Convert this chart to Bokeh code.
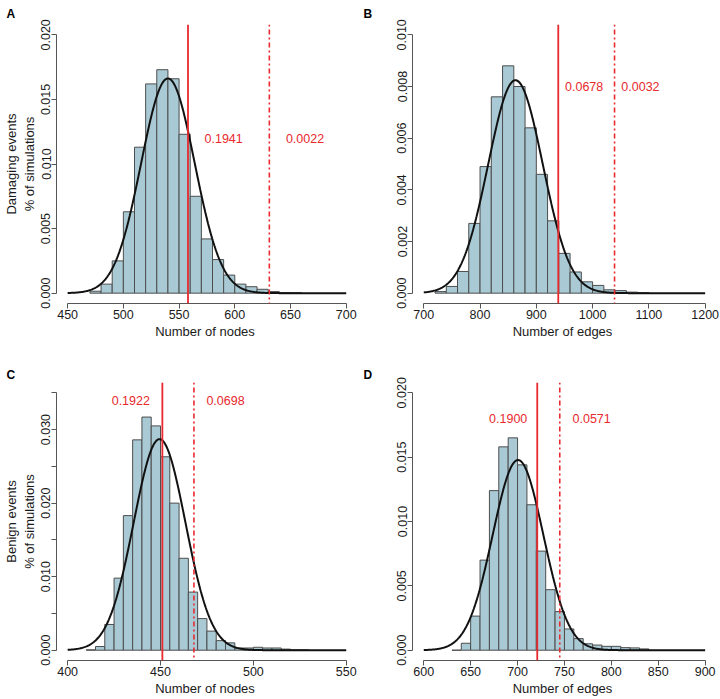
import numpy as np
from bokeh.plotting import figure
from bokeh.layouts import gridplot
from bokeh.models import Span, FixedTicker, Range1d, Title
from bokeh.core.properties import value
from bokeh.embed import file_html
from bokeh.resources import INLINE

# ---------------- data ----------------
# Panel A: damaging events, number of nodes
a_bin_start = 470
a_bin_width = 10
a_density = [0.00015, 0.0007, 0.0025, 0.0063, 0.0113, 0.0162, 0.0173, 0.0166, 0.0123,
             0.0075, 0.0042, 0.0026, 0.0014, 0.0007, 0.0005, 0.0003, 0.00012, 0.00005, 0.00003]
a_fit_mean, a_fit_sd = 540.0, 24.0
a_observed, a_upper = 558, 631
a_pvals = ["0.1941", "0.0022"]
a_pval_x = [590, 663]
a_pval_y = 0.0120
a_xticks = [450, 500, 550, 600, 650, 700]
a_yticks = [0.0, 0.005, 0.01, 0.015, 0.02]
a_ylabels = ["0.000", "0.005", "0.010", "0.015", "0.020"]

# Panel B: damaging events, number of edges
b_bin_start = 720
b_bin_width = 20
b_density = [0.00006, 0.00026, 0.00084, 0.0027, 0.0049, 0.0076, 0.0088, 0.0080, 0.0064,
             0.0046, 0.0028, 0.00154, 0.00082, 0.00044, 0.0003, 0.00013, 0.0001, 0.00004, 0.00002]
b_fit_mean, b_fit_sd = 863.0, 48.4
b_observed, b_upper = 939, 1039
b_pvals = ["0.0678", "0.0032"]
b_pval_x = [985, 1085]
b_pval_y = 0.0080
b_xticks = [700, 800, 900, 1000, 1100, 1200]
b_yticks = [0.0, 0.002, 0.004, 0.006, 0.008, 0.01]
b_ylabels = ["0.000", "0.002", "0.004", "0.006", "0.008", "0.010"]

# Panel C: benign events, number of nodes
c_bin_start = 410
c_bin_width = 5
c_density = [0.00005, 0.0005, 0.0035, 0.0098, 0.0183, 0.0286, 0.0317, 0.0305, 0.0263, 0.0200,
             0.0125, 0.0079, 0.0043, 0.0026, 0.0013, 0.0010, 0.0003, 0.0003, 0.0004, 0.0003,
             0.0003, 0.00015, 0.00003, 0.00003]
c_fit_mean, c_fit_sd = 449.5, 13.9
c_observed, c_upper = 451, 468
c_pvals = ["0.1922", "0.0698"]
c_pval_x = [434, 485]
c_pval_y = 0.0340
c_xticks = [400, 450, 500, 550]
c_yticks = [0.0, 0.005, 0.01, 0.015, 0.02, 0.025, 0.03, 0.035]
c_ylabels = ["0.000", "", "0.010", "", "0.020", "", "0.030", ""]

# Panel D: benign events, number of edges
d_bin_start = 630
d_bin_width = 10
d_density = [0.0, 0.00054, 0.00265, 0.0070, 0.0124, 0.0158, 0.0165, 0.0144, 0.0113, 0.0077,
             0.0047, 0.0030, 0.00165, 0.0009, 0.0005, 0.0004, 0.0003, 0.0003, 0.0002, 0.00018, 0.0001]
d_fit_mean, d_fit_sd = 700.5, 27.0
d_observed, d_upper = 721, 745
d_pvals = ["0.1900", "0.0571"]
d_pval_x = [690, 779]
d_pval_y = 0.0180
d_xticks = [600, 650, 700, 750, 800, 850, 900]
d_yticks = [0.0, 0.005, 0.01, 0.015, 0.02]
d_ylabels = ["0.000", "0.005", "0.010", "0.015", "0.020"]

# ---------------- style ----------------
FONT = "Liberation Sans"
BAR_FILL = "#a9cad5"
BAR_LINE = "#4d4d4d"
RED = "#e8292d"
AXIS_COLOR = "#555555"
TEXT_COLOR = "#1a1a1a"

FIG_W = 360
FRAME_W = 300
AXIS_PX = 281.4
FRAME_H = 280
BORDER_T = 23
TOP_BORDER_B = 56
BOT_BORDER_B = 36


def panel(letter, letter_gap, bin_start, bin_width, density, mean, sd, observed, upper,
          pvals, pval_x, pval_y, xticks, yticks, ylabels, xlabel, ylabel, border_b, border_l):
    lo, hi = xticks[0], xticks[-1]
    ppu = AXIS_PX / (hi - lo)
    x0 = lo - 0.04 * (hi - lo)
    x1 = x0 + FRAME_W / ppu
    ymax = yticks[-1]
    height = BORDER_T + FRAME_H + border_b
    p = figure(width=FIG_W, height=height, output_backend="svg", toolbar_location=None,
               x_range=Range1d(x0, x1), y_range=Range1d(-0.04 * ymax, 1.04 * ymax),
               min_border_left=border_l, min_border_right=FIG_W - border_l - FRAME_W,
               min_border_top=BORDER_T, min_border_bottom=border_b)
    p.outline_line_color = None
    p.grid.visible = False
    p.background_fill_color = "white"
    p.border_fill_color = "white"

    p.add_layout(Title(text=letter, align="left", text_font=FONT, text_font_size="12px",
                       text_font_style="bold", text_color="black",
                       offset=3 - border_l, standoff=letter_gap), "above")

    n = len(density)
    left = [bin_start + i * bin_width for i in range(n)]
    right = [bin_start + (i + 1) * bin_width for i in range(n)]
    p.quad(left=left, right=right, bottom=[0] * n, top=density,
           fill_color=BAR_FILL, line_color=BAR_LINE, line_width=1)

    xs = np.linspace(lo, hi, 400)
    ys = np.exp(-0.5 * ((xs - mean) / sd) ** 2) / (sd * np.sqrt(2 * np.pi))
    p.line(xs, ys, line_color="#111111", line_width=2)

    p.add_layout(Span(location=observed, dimension="height", line_color=RED, line_width=1.8))
    p.add_layout(Span(location=upper, dimension="height", line_color=RED, line_width=1.6,
                      line_dash="2 3 5 3"))
    p.text(x=pval_x, y=[pval_y] * len(pval_x), text=pvals, text_color=RED,
           text_font=value(FONT), text_font_size="12.5px", text_align="center",
           text_baseline="middle")

    for ax in (p.xaxis[0], p.yaxis[0]):
        ax.axis_line_color = AXIS_COLOR
        ax.major_tick_line_color = AXIS_COLOR
        ax.minor_tick_line_color = None
        ax.major_tick_out = 5
        ax.major_tick_in = 0
        ax.major_label_text_font = FONT
        ax.major_label_text_font_size = "12.5px"
        ax.major_label_text_color = TEXT_COLOR
        ax.major_label_standoff = 1
        ax.axis_label_text_font = FONT
        ax.axis_label_text_font_size = "13px"
        ax.axis_label_text_font_style = "normal"
        ax.axis_label_text_color = TEXT_COLOR
        ax.axis_label_standoff = 2

    p.xaxis.ticker = FixedTicker(ticks=xticks)
    p.xaxis.bounds = (lo, hi)
    p.xaxis.axis_label = xlabel
    p.yaxis.ticker = FixedTicker(ticks=yticks)
    p.yaxis.bounds = (0, ymax)
    p.yaxis.major_label_overrides = {v: s for v, s in zip(yticks, ylabels)}
    p.yaxis.major_label_orientation = "vertical"
    if ylabel:
        p.yaxis.axis_label = ylabel
    return p


pA = panel("A", 8, a_bin_start, a_bin_width, a_density, a_fit_mean, a_fit_sd, a_observed, a_upper,
           a_pvals, a_pval_x, a_pval_y, a_xticks, a_yticks, a_ylabels,
           "Number of nodes", "Damaging events\n% of simulations", TOP_BORDER_B, 53)
pB = panel("B", 8, b_bin_start, b_bin_width, b_density, b_fit_mean, b_fit_sd, b_observed, b_upper,
           b_pvals, b_pval_x, b_pval_y, b_xticks, b_yticks, b_ylabels,
           "Number of edges", None, TOP_BORDER_B, 52)
pC = panel("C", 2, c_bin_start, c_bin_width, c_density, c_fit_mean, c_fit_sd, c_observed, c_upper,
           c_pvals, c_pval_x, c_pval_y, c_xticks, c_yticks, c_ylabels,
           "Number of nodes", "Benign events\n% of simulations", BOT_BORDER_B, 53)
pD = panel("D", 2, d_bin_start, d_bin_width, d_density, d_fit_mean, d_fit_sd, d_observed, d_upper,
           d_pvals, d_pval_x, d_pval_y, d_xticks, d_yticks, d_ylabels,
           "Number of edges", None, BOT_BORDER_B, 52)

grid = gridplot([[pA, pB], [pC, pD]], toolbar_location=None)
open("out.html", "w").write(file_html(grid, INLINE))
